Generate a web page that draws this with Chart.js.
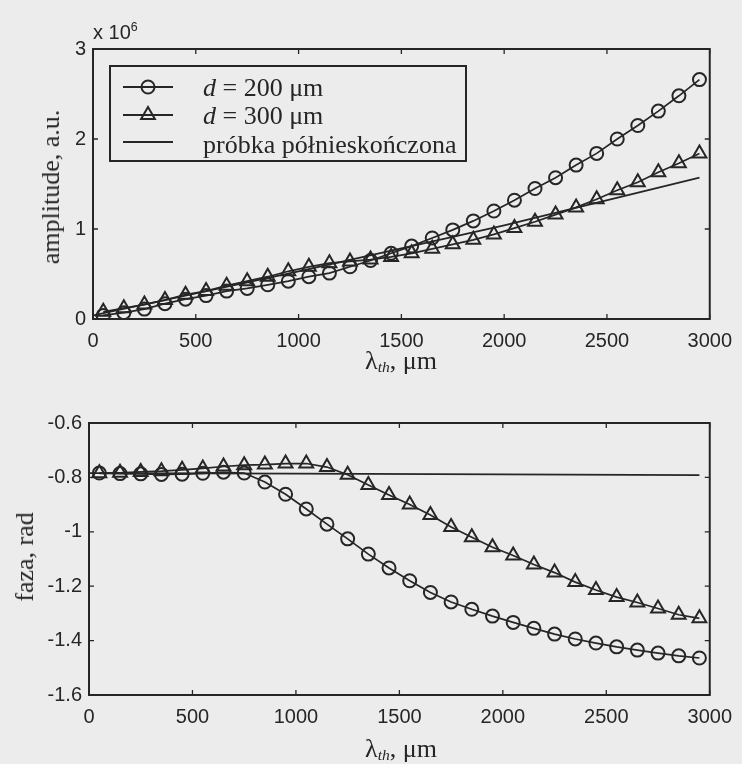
<!DOCTYPE html>
<html><head><meta charset="utf-8">
<script src="https://cdn.jsdelivr.net/npm/chart.js@4.4.1/dist/chart.umd.min.js"></script>
<style>
html,body{margin:0;padding:0;background:#ececec;}
#wrap{position:relative;width:742px;height:764px;overflow:hidden;background:#ececec;}
canvas{position:absolute;left:0;}
.t{position:absolute;white-space:nowrap;color:#262626;font-family:"Liberation Serif","Times New Roman",serif;font-size:26px;line-height:26px;}
.rot{transform:translate(-50%,-50%) rotate(-90deg);}
.ctr{transform:translate(-50%,-50%);}
.s{font-family:"Liberation Sans",Arial,sans-serif;font-size:20px;line-height:20px;}
#legbox{position:absolute;left:109px;top:65px;width:358px;height:97px;box-sizing:border-box;border:2px solid #262626;}
.samp{position:absolute;}
sub{font-size:60%;vertical-align:-0.25em;}
sup{font-size:62%;vertical-align:0.65em;}
</style>
</head>
<body>
<div id="wrap">
  <canvas id="c1" width="742" height="380" style="top:0"></canvas>
  <canvas id="c2" width="742" height="384" style="top:380px"></canvas>

  <div class="t s" style="left:93px;top:17px;">x 10<sup>6</sup></div>
  <div class="t rot" style="left:51px;top:187px;">amplitude, a.u.</div>
  <div class="t ctr" style="left:401px;top:364px;">λ<sub><i>th</i></sub>, μm</div>
  <div class="t rot" style="left:25px;top:557px;">faza, rad</div>
  <div class="t ctr" style="left:401px;top:752px;">λ<sub><i>th</i></sub>, μm</div>

  <div id="legbox"></div>
  <svg class="samp" style="left:123px;top:79px" width="50" height="16"><line x1="0" y1="8" x2="50" y2="8" stroke="#262626" stroke-width="1.8"/><circle cx="25" cy="8" r="6.5" fill="none" stroke="#262626" stroke-width="2"/></svg>
  <svg class="samp" style="left:123px;top:105px" width="50" height="18"><line x1="0" y1="10" x2="50" y2="10" stroke="#262626" stroke-width="1.8"/><polygon points="25,2 31.9,14 18.1,14" fill="none" stroke="#262626" stroke-width="2"/></svg>
  <svg class="samp" style="left:123px;top:134px" width="50" height="16"><line x1="0" y1="8" x2="50" y2="8" stroke="#262626" stroke-width="1.8"/></svg>
  <div class="t" style="left:203px;top:75px;"><i>d</i> = 200 μm</div>
  <div class="t" style="left:203px;top:103px;"><i>d</i> = 300 μm</div>
  <div class="t" style="left:203px;top:132px;">próbka półnieskończona</div>
</div>
<script>
// ---- data ----
const lambdaPts = [50,150,250,350,450,550,650,750,850,950,1050,1150,1250,1350,1450,1550,1650,1750,1850,1950,2050,2150,2250,2350,2450,2550,2650,2750,2850,2950];
// amplitude, x 10^6 a.u.
const ampD200 = [0.04,0.07,0.11,0.17,0.22,0.26,0.31,0.34,0.38,0.42,0.47,0.51,0.58,0.65,0.73,0.81,0.90,0.99,1.09,1.20,1.32,1.45,1.57,1.71,1.84,2.00,2.15,2.31,2.48,2.66];
const ampD300 = [0.08,0.12,0.16,0.21,0.27,0.31,0.37,0.42,0.47,0.53,0.58,0.62,0.64,0.66,0.69,0.73,0.78,0.83,0.88,0.94,1.01,1.08,1.16,1.24,1.33,1.43,1.52,1.63,1.73,1.84];
const semiLambda = [0,1000,2000,2950];
const ampSemi = [0.04,0.53,1.04,1.57];
// phase, rad
const phaseD200 = [-0.784,-0.786,-0.787,-0.789,-0.788,-0.785,-0.781,-0.784,-0.817,-0.862,-0.916,-0.972,-1.026,-1.082,-1.133,-1.180,-1.223,-1.258,-1.285,-1.310,-1.333,-1.355,-1.376,-1.394,-1.409,-1.423,-1.435,-1.446,-1.456,-1.464];
const phaseD300 = [-0.785,-0.783,-0.780,-0.777,-0.772,-0.767,-0.760,-0.755,-0.753,-0.749,-0.749,-0.762,-0.790,-0.828,-0.865,-0.900,-0.938,-0.982,-1.020,-1.057,-1.087,-1.120,-1.150,-1.185,-1.214,-1.240,-1.260,-1.282,-1.305,-1.318];
const phaseSemi = [-0.784,-0.786,-0.789,-0.792];
// axes
const xTicks = [0,500,1000,1500,2000,2500,3000];
const ampTicks = [0,1,2,3];
const phaseTicks = [-1.6,-1.4,-1.2,-1,-0.8,-0.6];
const phaseTickLabels = ['-1.6','-1.4','-1.2','-1','-0.8','-0.6'];

const ink = '#262626';
const tickFont = {family:'"Liberation Sans Narrow","Arial Narrow","Liberation Sans",Arial,sans-serif', size:20};

function pts(xs, ys){ return xs.map((x,i)=>({x:x, y:ys[i]})); }
function markerSet(xs, ys, style, r){
  return {data:pts(xs,ys), showLine:true, borderColor:ink, borderWidth:1.7,
    pointStyle:style, pointRadius:r, pointHoverRadius:r, pointBorderWidth:2,
    pointBorderColor:ink, pointBackgroundColor:'rgba(0,0,0,0)'};
}
function lineSet(xs, ys){
  return {data:pts(xs,ys), showLine:true, borderColor:ink, borderWidth:1.8, pointRadius:0};
}

const framePlugin = {
  id:'frame',
  afterDatasetsDraw(chart){
    const ctx = chart.ctx, a = chart.chartArea, sx = chart.scales.x, sy = chart.scales.y;
    ctx.save();
    ctx.strokeStyle = ink;
    ctx.lineWidth = 2;
    ctx.strokeRect(a.left, a.top, a.right-a.left, a.bottom-a.top);
    ctx.lineWidth = 1.3;
    const L = 5;
    ctx.beginPath();
    sx.ticks.forEach(t=>{
      const p = sx.getPixelForValue(t.value);
      ctx.moveTo(p, a.bottom); ctx.lineTo(p, a.bottom-L);
      ctx.moveTo(p, a.top); ctx.lineTo(p, a.top+L);
    });
    sy.ticks.forEach(t=>{
      const p = sy.getPixelForValue(t.value);
      ctx.moveTo(a.left, p); ctx.lineTo(a.left+L, p);
      ctx.moveTo(a.right, p); ctx.lineTo(a.right-L, p);
    });
    ctx.stroke();
    ctx.restore();
  }
};

function makeChart(id, datasets, yMin, yMax, yTicks, yFmt, pad, yW, xH){
  return new Chart(document.getElementById(id), {
    type:'scatter',
    data:{datasets:datasets},
    options:{
      responsive:false, animation:false, devicePixelRatio:1,
      layout:{padding:pad},
      plugins:{legend:{display:false}, tooltip:{enabled:false}},
      scales:{
        x:{type:'linear', min:0, max:3000,
          afterBuildTicks(s){ s.ticks = xTicks.map(v=>({value:v})); },
          ticks:{padding:10, color:ink, font:tickFont, maxRotation:0, autoSkip:false, callback:v=>String(v)},
          grid:{display:false, drawTicks:false}, border:{display:false},
          afterFit(s){ s.height = xH; }},
        y:{type:'linear', min:yMin, max:yMax,
          afterBuildTicks(s){ s.ticks = yTicks.map(v=>({value:v})); },
          ticks:{padding:7, color:ink, font:tickFont, autoSkip:false, callback:yFmt},
          grid:{display:false, drawTicks:false}, border:{display:false},
          afterFit(s){ s.width = yW; }}
      }
    },
    plugins:[framePlugin]
  });
}

makeChart('c1', [
    markerSet(lambdaPts, ampD200, 'circle', 6.5),
    markerSet(lambdaPts, ampD300, 'triangle', 8),
    lineSet(semiLambda, ampSemi)
  ], 0, 3, ampTicks, v=>String(v), {top:49,right:29,left:0,bottom:0}, 93, 61);

makeChart('c2', [
    markerSet(lambdaPts, phaseD200, 'circle', 6.5),
    markerSet(lambdaPts, phaseD300, 'triangle', 8),
    lineSet(semiLambda, phaseSemi)
  ], -1.6, -0.6, phaseTicks, v=>{ const i = phaseTicks.findIndex(t=>Math.abs(t-v)<1e-9); return i>=0 ? phaseTickLabels[i] : ''; },
  {top:43,right:31,left:0,bottom:0}, 89, 69);
</script>
</body></html>
